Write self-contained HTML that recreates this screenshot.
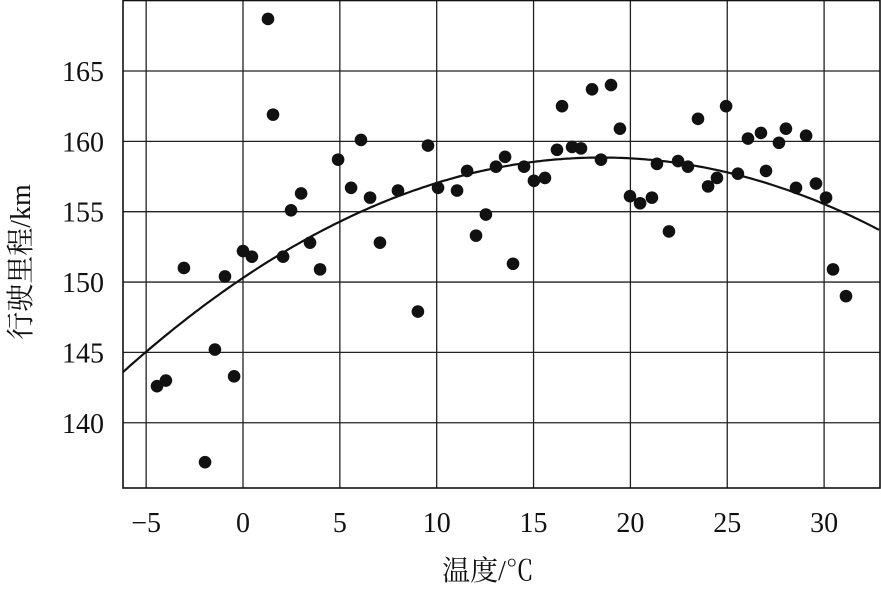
<!DOCTYPE html>
<html><head><meta charset="utf-8"><style>
html,body{margin:0;padding:0;background:#fff;}
svg text{font-family:"Liberation Serif","Noto Serif CJK SC",serif;fill:#111;}
</style></head><body>
<svg id="chart" width="881" height="584" viewBox="0 0 881 584" xmlns="http://www.w3.org/2000/svg">
<g id="grid"></g>
<g id="curve"></g>
<g id="pts"></g>
<g id="ticks"></g>
<text x="488" y="580" font-size="28" text-anchor="middle">温度/℃</text>
<text transform="translate(30,262) rotate(-90)" font-size="28" text-anchor="middle">行驶里程/km</text>
</svg>
<script>
const xTicks=[-5,0,5,10,15,20,25,30];
const yTicks=[140,145,150,155,160,165];
const tempX=[-4.44,-3.98,-3.05,-1.96,-1.45,-0.93,-0.46,0,0.46,1.29,1.55,2.07,2.48,3.0,3.46,3.98,4.91,5.58,6.09,6.56,7.07,8.0,9.03,9.55,10.07,11.05,11.57,12.03,12.54,13.06,13.53,13.94,14.51,15.02,15.59,16.21,16.47,16.99,17.45,18.02,18.48,19.0,19.46,19.98,20.5,21.11,21.37,21.99,22.46,22.97,23.49,24.01,24.47,24.94,25.55,26.07,26.74,27.0,27.67,28.03,28.55,29.07,29.58,30.1,30.46,31.13];
const rangeY=[142.6,143.0,151.0,137.2,145.2,150.4,143.3,152.2,151.8,168.7,161.9,151.8,155.1,156.3,152.8,150.9,158.7,156.7,160.1,156.0,152.8,156.5,147.9,159.7,156.7,156.5,157.9,153.3,154.8,158.2,158.9,151.3,158.2,157.2,157.4,159.4,162.5,159.6,159.5,163.7,158.7,164.0,160.9,156.1,155.6,156.0,158.4,153.6,158.6,158.2,161.6,156.8,157.4,162.5,157.7,160.2,160.6,157.9,159.9,160.9,156.7,160.4,157.0,156.0,150.9,149.0];
const fitCoef=[158.85,0.025,18.5]; // peak, curvature, vertex x
const L=123,R=880,T=0,B=488;
function sx(v){return 243+v*19.37;}
function sy(v){return 71+(165-v)*14.07;}
const NS='http://www.w3.org/2000/svg';
function mk(parent,tag,attrs){const e=document.createElementNS(NS,tag);for(const k in attrs)e.setAttribute(k,attrs[k]);document.getElementById(parent).appendChild(e);return e;}
let e;
xTicks.forEach(v=>{
 e=mk('grid','line',{x1:sx(v),x2:sx(v),y1:T,y2:B,stroke:'#222','stroke-width':1.3});
 
 
 e=mk('ticks','text',{x:sx(v),y:532,'font-size':28,'text-anchor':'middle'});
 e.textContent=v<0?'\u2212'+Math.abs(v):String(v);
 
 
});
yTicks.forEach(v=>{
 e=mk('grid','line',{x1:L,x2:R,y1:sy(v),y2:sy(v),stroke:'#222','stroke-width':1.3});
 
 
 e=mk('ticks','text',{x:104,y:sy(v)+10,'font-size':28,'text-anchor':'end'});
 e.textContent=String(v);
 
 
});
e=mk('grid','rect',{x:L,y:T+0.5,width:R-L,height:B-T-0.5,fill:'none',stroke:'#111','stroke-width':1.6});


let d='';
for(let px=L;px<=R;px+=3){const x=(px-243)/19.37;const y=fitCoef[0]-fitCoef[1]*(x-fitCoef[2])**2;d+=(d?'L':'M')+px.toFixed(1)+','+sy(y).toFixed(1);}
e=mk('curve','path',{d:d,fill:'none',stroke:'#111','stroke-width':2.2});


tempX.forEach((x,i)=>{
 e=mk('pts','circle',{cx:sx(x),cy:sy(rangeY[i]),r:6.3,fill:'#111'});
 
 
});
</script>
</body></html>
